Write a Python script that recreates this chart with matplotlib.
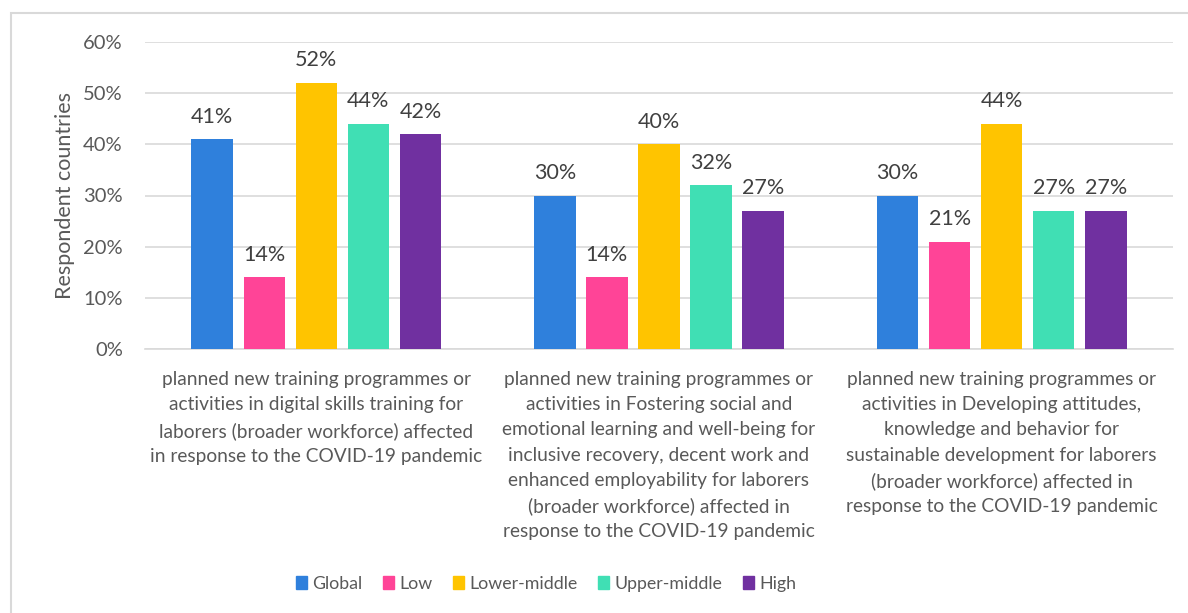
import matplotlib
matplotlib.use("Agg")
import matplotlib.pyplot as plt
import numpy as np
from matplotlib.patches import Rectangle, Patch

plt.rcParams['font.family'] = ['Lato', 'DejaVu Sans']

categories = [
    "planned new training programmes or\nactivities in digital skills training for\nlaborers (broader workforce) affected\nin response to the COVID-19 pandemic",
    "planned new training programmes or\nactivities in Fostering social and\nemotional learning and well-being for\ninclusive recovery, decent work and\nenhanced employability for laborers\n(broader workforce) affected in\nresponse to the COVID-19 pandemic",
    "planned new training programmes or\nactivities in Developing attitudes,\nknowledge and behavior for\nsustainable development for laborers\n(broader workforce) affected in\nresponse to the COVID-19 pandemic",
]
series_names = ["Global", "Low", "Lower-middle", "Upper-middle", "High"]
global_vals = [41, 30, 30]
low_vals = [14, 14, 21]
lower_middle_vals = [52, 40, 44]
upper_middle_vals = [44, 32, 27]
high_vals = [42, 27, 27]
values = [global_vals, low_vals, lower_middle_vals, upper_middle_vals, high_vals]
colors = ["#2F80DC", "#FF4497", "#FFC400", "#40DFB4", "#7030A0"]
yticks = [0, 10, 20, 30, 40, 50, 60]
ytick_labels = ["0%", "10%", "20%", "30%", "40%", "50%", "60%"]

fig = plt.figure(figsize=(11.88, 6.13), dpi=100)
ax = fig.add_axes([145/1188, 1 - 349/613, (1173-145)/1188, (349-42)/613])

# outer frame (only top/left visible)
fig.patches.append(Rectangle((10.5/1188, -0.05), 1.1, 1 - 12.5/613 + 0.05,
                             transform=fig.transFigure, fill=False,
                             edgecolor="#D9D9D9", linewidth=1.5))

x = np.arange(len(categories))
step = 0.152
width = 0.121
text_gray = "#595959"
for i, (name, vals, c) in enumerate(zip(series_names, values, colors)):
    pos = x + (i - 2) * step
    ax.bar(pos, vals, width=width, color=c, label=name, zorder=3)
    for p, v in zip(pos, vals):
        ax.annotate(f"{v}%", (p, v), xytext=(0, 9), textcoords="offset points",
                    ha="center", va="bottom", fontsize=15.5, color="#404040")

ax.set_xlim(-0.5, 2.5)
ax.set_ylim(0, 60)
ax.set_yticks(yticks)
ax.set_yticklabels(ytick_labels, fontsize=14.5, color=text_gray)
ax.set_xticks(x)
ax.set_xticklabels(categories, fontsize=13.8, color=text_gray, linespacing=1.58)
ax.tick_params(axis='both', length=0)
ax.tick_params(axis='y', pad=16)
ax.tick_params(axis='x', pad=16)
ax.grid(axis='y', color="#D9D9D9", linewidth=1.2, zorder=0)
for s in ["top", "right", "left"]:
    ax.spines[s].set_visible(False)
ax.spines["bottom"].set_color("#D9D9D9")
ax.spines["bottom"].set_linewidth(1.2)
ax.set_ylabel("Respondent countries", fontsize=15.5, color=text_gray, labelpad=6)

handles = [Patch(color=c, label=n) for n, c in zip(series_names, colors)]
fig.legend(handles=handles, loc="center", bbox_to_anchor=(546/1188, 1 - 584/613),
           ncol=5, frameon=False, fontsize=12.8, handlelength=0.62, handleheight=0.75,
           handletextpad=0.3, columnspacing=1.15, labelcolor=text_gray)

fig.savefig("out.png", dpi=100)
